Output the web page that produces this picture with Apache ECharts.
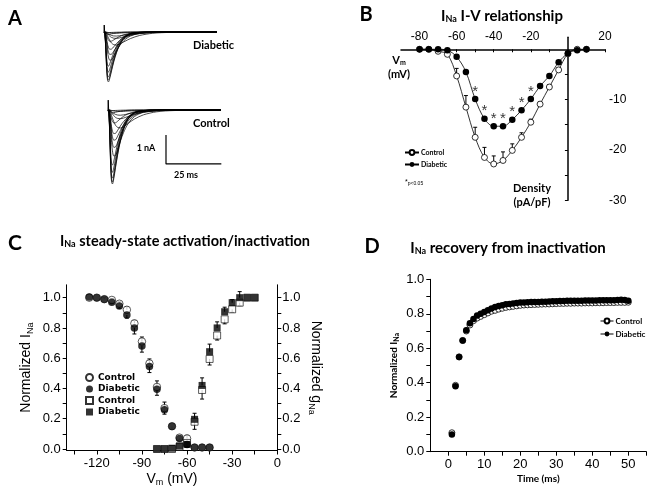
<!DOCTYPE html>
<html>
<head>
<meta charset="utf-8">
<script src="https://cdn.jsdelivr.net/npm/echarts@6/dist/echarts.min.js"></script>
<style>
html, body { margin: 0; padding: 0; background: #fff; }
#chart { width: 654px; height: 493px; }
</style>
</head>
<body>
<div id="chart"></div>
<script>
// Panel A: current traces (time in ms, current in nA)
const traceTime = [0, 0.4, 0.8, 1.2, 1.6, 2.0, 2.6, 3.4, 4.4, 5.6, 7, 9, 12, 16, 22, 30, 51];
const shapeFast = [0, 0.05, 0.35, 0.75, 0.97, 1.0, 0.93, 0.78, 0.6, 0.42, 0.27, 0.13, 0.04, 0.01, 0, 0, 0];
const shapeMid = [0, 0.02, 0.15, 0.42, 0.7, 0.88, 0.99, 0.98, 0.85, 0.67, 0.49, 0.3, 0.14, 0.05, 0.015, 0, 0];
const shapeSlow = [0, 0.01, 0.05, 0.15, 0.3, 0.45, 0.65, 0.85, 0.97, 1.0, 0.93, 0.75, 0.5, 0.27, 0.1, 0.03, 0];
const diabeticPeaks = [-0.02, -0.04, -0.08, -0.14, -0.22, -0.32, -0.45, -0.6, -0.78, -0.98, -1.18, -1.38, -1.55, -1.66, -1.72];
const diabeticKinetics = ['fast', 'slow', 'fast', 'slow', 'slow', 'mid', 'slow', 'mid', 'mid', 'mid', 'fast', 'fast', 'fast', 'fast', 'fast'];
const controlPeaks = [-0.02, -0.05, -0.1, -0.18, -0.3, -0.45, -0.62, -0.82, -1.05, -1.3, -1.6, -1.9, -2.15, -2.35, -2.48, -2.55];
const controlKinetics = ['fast', 'slow', 'fast', 'slow', 'slow', 'mid', 'slow', 'mid', 'mid', 'mid', 'mid', 'fast', 'fast', 'fast', 'fast', 'fast'];
const transientTime = [0, 0.1, 0.3];
const diabeticTransient = [0, 0.24, 0];
const controlTransient = [0, 0.34, 0];
const scaleBarTime = [26.2, 26.2, 51.2];
const scaleBarCurrent = [-0.86, -1.86, -1.86];

// Panel B: I-V relationship
const ivVoltage = [-80, -75, -70, -65, -60, -55, -50, -45, -40, -35, -30, -25, -20, -15, -10, -5, 0, 5, 10];
const ivControl = [0, 0, -0.4, -1.0, -5.3, -11.5, -17.5, -21.5, -22.8, -22.1, -20.1, -17.5, -14.5, -10.9, -7.5, -4.1, -0.9, 0, 0];
const ivControlErr = [0, 0, 0, 0.4, 1.5, 2.3, 2.0, 2.0, 1.6, 1.7, 1.3, 0.9, 0.6, 0.5, 0.5, 0.4, 0.3, 0, 0];
const ivDiabetic = [0, 0, 0, -0.2, -1.5, -4.5, -9.9, -13.8, -15.3, -15.3, -14.0, -12.1, -9.9, -7.3, -5.3, -2.6, -0.8, -0.2, 0];
const ivSignificant = [-50, -45, -40, -35, -30, -25, -20];

// Panel C: steady-state inactivation (circles) and activation (squares)
const inactVoltage = [-125, -120, -115, -110, -105, -100, -95, -90, -85, -80, -75, -70, -65, -60, -55, -50, -45];
const inactControl = [1.0, 1.0, 0.99, 0.985, 0.96, 0.92, 0.83, 0.71, 0.565, 0.41, 0.27, 0.15, 0.075, 0.07, 0.01, 0.01, 0.01];
const inactControlErr = [0, 0, 0.01, 0.01, 0.015, 0.02, 0.02, 0.03, 0.03, 0.04, 0.04, 0, 0, 0.02, 0, 0, 0];
const inactDiabetic = [1.005, 1.0, 0.99, 0.97, 0.945, 0.885, 0.8, 0.68, 0.545, 0.395, 0.26, 0.15, 0.07, 0.03, 0.01, 0.01, 0.01];
const inactDiabeticErr = [0, 0, 0, -0.01, -0.015, -0.02, -0.04, -0.04, -0.04, -0.04, -0.03, -0.02, -0.01, -0.02, 0, 0, 0];
const actVoltage = [-80, -75, -70, -65, -60, -55, -50, -45, -40, -35, -30, -25, -20, -15];
const actControl = [0, 0, 0, 0.015, 0.04, 0.18, 0.39, 0.595, 0.75, 0.857, 0.923, 0.967, 1.0, 1.0];
const actControlErr = [0, 0, 0, 0, 0, -0.05, -0.06, -0.04, -0.03, -0.03, -0.02, -0.02, 0, 0];
const actDiabetic = [0, 0, 0.005, 0.02, 0.03, 0.196, 0.42, 0.643, 0.8, 0.907, 0.967, 1.0, 1.0, 1.0];
const actDiabeticErr = [0, 0, 0, 0, 0.01, 0.04, 0.05, 0.05, 0.04, 0.03, 0.02, 0.04, 0, 0];

// Panel D: recovery from inactivation
const recoveryTime = [1, 2, 3, 4, 5, 6, 7, 8, 9, 10, 11, 12, 13, 14, 15, 16, 17, 18, 19, 20, 21, 22, 23, 24, 25,
    26, 27, 28, 29, 30, 31, 32, 33, 34, 35, 36, 37, 38, 39, 40, 41, 42, 43, 44, 45, 46, 47, 48, 49, 50];
const recoveryControl = [0.11, 0.385, 0.55, 0.645, 0.70, 0.735, 0.76, 0.775, 0.785, 0.795, 0.805, 0.815, 0.82, 0.827, 0.832,
    0.837, 0.84, 0.843, 0.846, 0.849, 0.851, 0.852, 0.853, 0.854, 0.855, 0.856, 0.857, 0.857, 0.858, 0.859,
    0.86, 0.86, 0.861, 0.861, 0.862, 0.862, 0.862, 0.863, 0.863, 0.863, 0.864, 0.864, 0.864, 0.865, 0.865,
    0.865, 0.866, 0.866, 0.866, 0.867];
const recoveryDiabetic = [0.10, 0.38, 0.55, 0.645, 0.705, 0.745, 0.77, 0.79, 0.80, 0.81, 0.82, 0.83, 0.84, 0.845, 0.85,
    0.855, 0.857, 0.86, 0.862, 0.865, 0.866, 0.867, 0.868, 0.868, 0.869, 0.87, 0.87, 0.871, 0.872, 0.873,
    0.874, 0.874, 0.875, 0.875, 0.876, 0.876, 0.876, 0.877, 0.877, 0.877, 0.877, 0.878, 0.878, 0.878, 0.879,
    0.879, 0.88, 0.882, 0.88, 0.876];

const FONT = 'Liberation Sans, Arial, sans-serif';
const BOLD_FONT = 'Lato, Open Sans, sans-serif';
const shapes = { fast: shapeFast, mid: shapeMid, slow: shapeSlow };
const legendNames = {
    bCtrl: 'Control', bDiab: 'Diabetic',
    cCtrlInact: 'Control', cDiabInact: 'Diabetic', cCtrlAct: 'Control', cDiabAct: 'Diabetic',
    dCtrl: 'Control', dDiab: 'Diabetic'
};

function pairs(xs, ys) {
    return xs.map((x, i) => [x, ys[i]]);
}

// 电流迹线
function traceSeries(xi, yi, peaks, kinetics, transient) {
    const list = peaks.map((pk, k) => ({
        type: 'line', xAxisIndex: xi, yAxisIndex: yi, showSymbol: false, smooth: 0.3, silent: true,
        lineStyle: { color: '#000', width: 0.7 },
        data: traceTime.map((t, i) => [t, pk * shapes[kinetics[k]][i]])
    }));
    list.push({
        type: 'line', xAxisIndex: xi, yAxisIndex: yi, showSymbol: false, silent: true,
        lineStyle: { color: '#000', width: 1 }, data: pairs(transientTime, transient)
    });
    return list;
}

// 误差线（正值向上，负值向下）
function errorBars(xi, yi, xs, ys, errs, cap) {
    return {
        type: 'custom', xAxisIndex: xi, yAxisIndex: yi, silent: true, z: 1,
        data: xs.map((x, i) => [x, ys[i], ys[i] + errs[i]]),
        renderItem: function (params, api) {
            const base = api.coord([api.value(0), api.value(1)]);
            const tip = api.coord([api.value(0), api.value(2)]);
            if (Math.abs(tip[1] - base[1]) < 0.5) return { type: 'group', children: [] };
            return {
                type: 'group',
                children: [
                    { type: 'line', shape: { x1: base[0], y1: base[1], x2: tip[0], y2: tip[1] }, style: { stroke: '#000', lineWidth: 1 } },
                    { type: 'line', shape: { x1: tip[0] - cap, y1: tip[1], x2: tip[0] + cap, y2: tip[1] }, style: { stroke: '#000', lineWidth: 1 } }
                ]
            };
        }
    };
}

function valueAxisBase() {
    return {
        type: 'value',
        splitLine: { show: false },
        axisLine: { onZero: false, lineStyle: { color: '#000', width: 1 } },
        axisTick: { lineStyle: { color: '#000' }, length: 4 },
        axisLabel: { color: '#000', fontFamily: FONT, fontSize: 13 }
    };
}

const subRich = { s: { fontSize: 9, fontWeight: 'bold', fontFamily: BOLD_FONT, padding: [7, 0, 0, 0] } };
const subRichPlain = { s: { fontSize: 9, fontFamily: FONT, padding: [8, 0, 0, 0] } };
const tenths = [0, 0.1, 0.2, 0.3, 0.4, 0.5, 0.6, 0.7, 0.8, 0.9, 1.0];
const fifths = [0, 0.2, 0.4, 0.6, 0.8, 1.0];

const dom = document.getElementById('chart');
const chart = echarts.init(dom, null, { renderer: 'canvas' });

const cX = Object.assign(valueAxisBase(), {
    gridIndex: 3, min: -140, max: 0,
    axisTick: { lineStyle: { color: '#000' }, length: 4, customValues: [-135, -120, -105, -90, -75, -60, -45, -30, -15, 0] },
    axisLabel: { color: '#000', fontFamily: FONT, fontSize: 13, margin: 6, customValues: [-120, -90, -60, -30, 0] },
    name: 'V{s|m} (mV)', nameLocation: 'middle', nameGap: 20,
    nameTextStyle: { color: '#000', fontFamily: FONT, fontSize: 14, rich: subRichPlain }
});
const cYLeft = Object.assign(valueAxisBase(), {
    gridIndex: 3, min: -0.01, max: 1.085,
    axisTick: { lineStyle: { color: '#000' }, length: 4, customValues: tenths },
    axisLabel: { color: '#000', fontFamily: FONT, fontSize: 13, margin: 6, customValues: fifths, formatter: v => v.toFixed(1) },
    name: 'Normalized I{s|Na}', nameLocation: 'middle', nameGap: 32, nameRotate: 90,
    nameTextStyle: { color: '#000', fontFamily: FONT, fontSize: 14, rich: subRichPlain }
});
const cYRight = Object.assign(valueAxisBase(), {
    gridIndex: 3, min: -0.01, max: 1.085, position: 'right',
    axisTick: { lineStyle: { color: '#000' }, length: 4, customValues: tenths },
    axisLabel: { color: '#000', fontFamily: FONT, fontSize: 13, margin: 5, customValues: fifths, formatter: v => v.toFixed(1) },
    name: 'Normalized g{s|Na}', nameLocation: 'middle', nameGap: 30, nameRotate: -90,
    nameTextStyle: { color: '#000', fontFamily: FONT, fontSize: 14, rich: subRichPlain }
});
const dX = Object.assign(valueAxisBase(), {
    gridIndex: 4, min: -5, max: 55,
    axisTick: { lineStyle: { color: '#000' }, length: 4, customValues: [0, 5, 10, 15, 20, 25, 30, 35, 40, 45, 50, 55] },
    axisLabel: { color: '#000', fontFamily: FONT, fontSize: 13, margin: 6, customValues: [0, 10, 20, 30, 40, 50] },
    name: 'Time (ms)', nameLocation: 'middle', nameGap: 22,
    nameTextStyle: { color: '#000', fontFamily: BOLD_FONT, fontSize: 10, fontWeight: 'bold' }
});
const dY = Object.assign(valueAxisBase(), {
    gridIndex: 4, min: 0, max: 1,
    axisTick: { lineStyle: { color: '#000' }, length: 4, customValues: tenths },
    axisLabel: { color: '#000', fontFamily: FONT, fontSize: 13, margin: 6, customValues: fifths, formatter: v => v.toFixed(1) },
    name: 'Normalized I{s|Na}', nameLocation: 'middle', nameGap: 30, nameRotate: 90,
    nameTextStyle: { color: '#000', fontFamily: BOLD_FONT, fontSize: 10, fontWeight: 'bold', rich: { s: { fontSize: 7, fontWeight: 'bold', fontFamily: BOLD_FONT, padding: [6, 0, 0, 0] } } }
});

// B 面板：坐标轴交于零点
const bX = Object.assign(valueAxisBase(), {
    gridIndex: 2, min: -90, max: 20, position: 'top',
    axisLine: { onZero: true, lineStyle: { color: '#000', width: 1.5 } },
    axisTick: { inside: true, length: 3, lineStyle: { color: '#000' }, customValues: [-80, -70, -60, -50, -40, -30, -20, -10, 10, 20] },
    axisLabel: { color: '#000', fontFamily: FONT, fontSize: 12, margin: -5, customValues: [-80, -60, -40, -20, 20] }
});
const bY = Object.assign(valueAxisBase(), {
    gridIndex: 2, min: -30, max: 2.4, position: 'right',
    axisLine: { onZero: true, lineStyle: { color: '#000', width: 1.5 } },
    axisTick: { inside: true, length: 3, lineStyle: { color: '#000' }, customValues: [-30, -25, -20, -15, -10, -5] },
    axisLabel: { color: '#000', fontFamily: FONT, fontSize: 12, margin: 4, customValues: [-30, -20, -10] }
});

const gridCommon = { containLabel: false, outerBoundsMode: 'none' };

const series = [].concat(
    traceSeries(0, 0, diabeticPeaks, diabeticKinetics, diabeticTransient),
    traceSeries(1, 1, controlPeaks, controlKinetics, controlTransient),
    [{
        type: 'line', xAxisIndex: 1, yAxisIndex: 1, showSymbol: false, silent: true,
        lineStyle: { color: '#000', width: 1.2 }, data: pairs(scaleBarTime, scaleBarCurrent)
    }],
    // Panel B
    [
        errorBars(2, 2, ivVoltage, ivControl, ivControlErr, 2),
        {
            name: 'bCtrl', type: 'line', xAxisIndex: 2, yAxisIndex: 2, smooth: 0.35, z: 3,
            symbol: 'circle', symbolSize: 6, lineStyle: { color: '#000', width: 0.8 },
            itemStyle: { color: '#fff', borderColor: '#000', borderWidth: 0.8 },
            data: pairs(ivVoltage, ivControl)
        },
        {
            name: 'bDiab', type: 'line', xAxisIndex: 2, yAxisIndex: 2, smooth: 0.35, z: 4,
            symbol: 'circle', symbolSize: 6.5, lineStyle: { color: '#000', width: 0.8 },
            itemStyle: { color: '#000' },
            data: pairs(ivVoltage, ivDiabetic)
        },
        {
            type: 'scatter', xAxisIndex: 2, yAxisIndex: 2, silent: true, symbolSize: 0.01,
            itemStyle: { color: 'rgba(0,0,0,0)' },
            label: { show: true, formatter: '*', position: 'top', distance: 0, color: '#000', fontSize: 15, fontFamily: FONT },
            data: ivSignificant.map(v => [v, ivDiabetic[ivVoltage.indexOf(v)]])
        }
    ],
    // Panel C
    [
        errorBars(3, 3, inactVoltage, inactControl, inactControlErr, 2),
        errorBars(3, 3, inactVoltage, inactDiabetic, inactDiabeticErr, 2),
        errorBars(3, 3, actVoltage, actControl, actControlErr, 2),
        errorBars(3, 3, actVoltage, actDiabetic, actDiabeticErr, 2),
        {
            name: 'cCtrlInact', type: 'scatter', xAxisIndex: 3, yAxisIndex: 3, z: 3,
            symbol: 'circle', symbolSize: 7.5,
            itemStyle: { color: '#fff', borderColor: '#000', borderWidth: 0.8 },
            data: pairs(inactVoltage, inactControl)
        },
        {
            name: 'cDiabInact', type: 'scatter', xAxisIndex: 3, yAxisIndex: 3, z: 4,
            symbol: 'circle', symbolSize: 7.5, itemStyle: { color: '#000' },
            data: pairs(inactVoltage, inactDiabetic)
        },
        {
            name: 'cCtrlAct', type: 'scatter', xAxisIndex: 3, yAxisIndex: 3, z: 3,
            symbol: 'rect', symbolSize: 7,
            itemStyle: { color: '#fff', borderColor: '#000', borderWidth: 0.8 },
            data: pairs(actVoltage, actControl)
        },
        {
            name: 'cDiabAct', type: 'scatter', xAxisIndex: 3, yAxisIndex: 3, z: 4,
            symbol: 'rect', symbolSize: 7, itemStyle: { color: '#000' },
            data: pairs(actVoltage, actDiabetic)
        }
    ],
    // Panel D (points only; legend shows line+marker)
    [
        {
            name: 'dCtrl', type: 'line', xAxisIndex: 4, yAxisIndex: 5, z: 3,
            symbol: 'circle', symbolSize: 6, lineStyle: { color: '#000', width: 0.8, opacity: 0 },
            itemStyle: { color: '#fff', borderColor: '#000', borderWidth: 0.8 },
            data: pairs(recoveryTime, recoveryControl)
        },
        {
            name: 'dDiab', type: 'line', xAxisIndex: 4, yAxisIndex: 5, z: 4,
            symbol: 'circle', symbolSize: 6.5, lineStyle: { color: '#000', width: 0.8, opacity: 0 },
            itemStyle: { color: '#000' },
            data: pairs(recoveryTime, recoveryDiabetic)
        }
    ]
);

const legendText = { color: '#000', fontWeight: 'bold', fontFamily: BOLD_FONT };

const option = {
    animation: false,
    backgroundColor: '#fff',
    textStyle: { fontFamily: FONT },
    grid: [
        Object.assign({ left: 104, top: 21.85, width: 113, height: 63.8 }, gridCommon),
        Object.assign({ left: 108, top: 99.85, width: 114, height: 88.45 }, gridCommon),
        Object.assign({ left: 401, top: 37.2, width: 204, height: 163 }, gridCommon),
        Object.assign({ left: 66.7, top: 284.8, width: 210.6, height: 165.7 }, gridCommon),
        Object.assign({ left: 430.3, top: 279.3, width: 216, height: 172.4 }, gridCommon)
    ],
    xAxis: [
        { gridIndex: 0, type: 'value', min: 0, max: 51, show: false },
        { gridIndex: 1, type: 'value', min: 0, max: 51.5, show: false },
        bX, cX, dX
    ],
    yAxis: [
        { gridIndex: 0, type: 'value', min: -1.85, max: 0.35, show: false },
        { gridIndex: 1, type: 'value', min: -2.7, max: 0.35, show: false },
        bY, cYLeft, cYRight, dY
    ],
    legend: [
        {
            data: ['bCtrl', 'bDiab'], left: 399, top: 144, orient: 'vertical', selectedMode: false,
            itemWidth: 14, itemHeight: 6, itemGap: 5, formatter: n => legendNames[n],
            textStyle: Object.assign({ fontSize: 7, padding: [0, 0, 0, -3] }, legendText)
        },
        {
            data: ['cCtrlInact', 'cDiabInact', 'cCtrlAct', 'cDiabAct'], left: 80, top: 368, orient: 'vertical',
            selectedMode: false, itemWidth: 7, itemHeight: 7, itemGap: 2.5, formatter: n => legendNames[n],
            textStyle: { color: '#000', fontWeight: 'bold', fontFamily: 'DejaVu Sans', fontSize: 9 }
        },
        {
            data: ['dCtrl', 'dDiab'], left: 595, top: 312, orient: 'vertical', selectedMode: false,
            itemWidth: 13, itemHeight: 6, itemGap: 5, formatter: n => legendNames[n],
            lineStyle: { color: '#000', width: 1, opacity: 1 },
            textStyle: Object.assign({ fontSize: 8, padding: [0, 0, 0, -3] }, legendText)
        }
    ],
    graphic: [
        // panel letters
        { type: 'text', style: { text: 'A', x: 15, y: 19, textAlign: 'center', textVerticalAlign: 'middle', fontSize: 20, fontWeight: 'bold', fontFamily: BOLD_FONT, fill: '#000' } },
        { type: 'text', style: { text: 'B', x: 366, y: 15, textAlign: 'center', textVerticalAlign: 'middle', fontSize: 20, fontWeight: 'bold', fontFamily: BOLD_FONT, fill: '#000' } },
        { type: 'text', style: { text: 'C', x: 15, y: 243, textAlign: 'center', textVerticalAlign: 'middle', fontSize: 21, fontWeight: 'bold', fontFamily: BOLD_FONT, fill: '#000' } },
        { type: 'text', style: { text: 'D', x: 372, y: 246.5, textAlign: 'center', textVerticalAlign: 'middle', fontSize: 20, fontWeight: 'bold', fontFamily: BOLD_FONT, fill: '#000' } },
        // titles
        { type: 'text', style: { text: 'I{s|Na} I-V relationship', x: 502, y: 16, textAlign: 'center', textVerticalAlign: 'middle', fontSize: 15, fontWeight: 'bold', fontFamily: BOLD_FONT, fill: '#000', rich: subRich } },
        { type: 'text', style: { text: 'I{s|Na} steady-state activation/inactivation', x: 185, y: 241, textAlign: 'center', textVerticalAlign: 'middle', fontSize: 14.5, fontWeight: 'bold', fontFamily: BOLD_FONT, fill: '#000', rich: subRich } },
        { type: 'text', style: { text: 'I{s|Na} recovery from inactivation', x: 508, y: 248, textAlign: 'center', textVerticalAlign: 'middle', fontSize: 15, fontWeight: 'bold', fontFamily: BOLD_FONT, fill: '#000', rich: subRich } },
        // panel A labels
        { type: 'text', style: { text: 'Diabetic', x: 193, y: 45, textVerticalAlign: 'middle', fontSize: 11, fontWeight: 'bold', fontFamily: BOLD_FONT, fill: '#000' } },
        { type: 'text', style: { text: 'Control', x: 193, y: 123, textVerticalAlign: 'middle', fontSize: 11, fontWeight: 'bold', fontFamily: BOLD_FONT, fill: '#000' } },
        { type: 'text', style: { text: '1 nA', x: 146, y: 148, textAlign: 'center', textVerticalAlign: 'middle', fontSize: 9, fontWeight: 'bold', fontFamily: BOLD_FONT, fill: '#000' } },
        { type: 'text', style: { text: '25 ms', x: 186, y: 175, textAlign: 'center', textVerticalAlign: 'middle', fontSize: 9, fontWeight: 'bold', fontFamily: BOLD_FONT, fill: '#000' } },
        // panel B labels
        { type: 'text', style: { text: 'V{s|m}\n(mV)', x: 399, y: 67, textAlign: 'center', textVerticalAlign: 'middle', fontSize: 11, fontWeight: 'bold', fontFamily: BOLD_FONT, fill: '#000', lineHeight: 14, rich: { s: { fontSize: 7, fontWeight: 'bold', fontFamily: BOLD_FONT, padding: [6, 0, 0, 0] } } } },
        { type: 'text', style: { text: 'Density\n(pA/pF)', x: 532, y: 195, textAlign: 'center', textVerticalAlign: 'middle', fontSize: 11, fontWeight: 'bold', fontFamily: BOLD_FONT, fill: '#000', lineHeight: 14 } },
        { type: 'text', style: { text: '*{p|p<0.05}', x: 405, y: 182, textVerticalAlign: 'middle', fontSize: 7, fontFamily: FONT, fill: '#000', rich: { p: { fontSize: 5, fontFamily: FONT, padding: [4, 0, 0, 0] } } } }
    ],
    series: series
};

chart.setOption(option);
</script>
</body>
</html>
